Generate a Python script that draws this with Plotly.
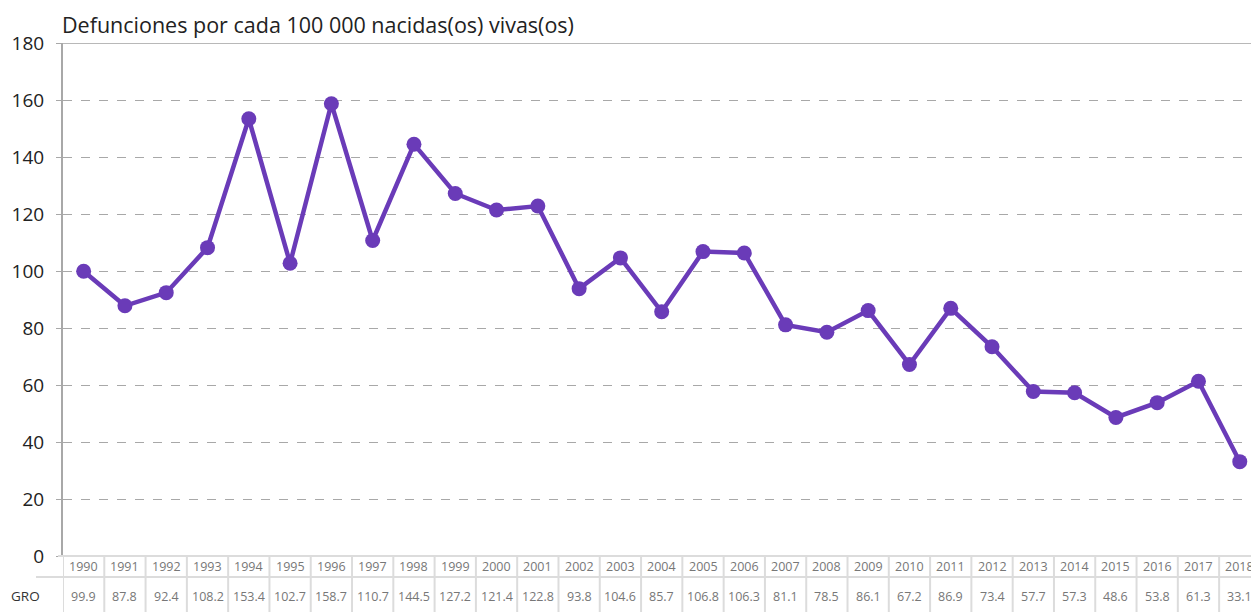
import plotly.graph_objects as go

years = list(range(1990, 2019))
gro = [99.9, 87.8, 92.4, 108.2, 153.4, 102.7, 158.7, 110.7, 144.5, 127.2,
       121.4, 122.8, 93.8, 104.6, 85.7, 106.8, 106.3, 81.1, 78.5, 86.1,
       67.2, 86.9, 73.4, 57.7, 57.3, 48.6, 53.8, 61.3, 33.1]
y_ticks = list(range(0, 181, 20))

W, H = 1251, 612
L, T, B = 63, 43, 56
plot_h = H - T - B
plot_w = W - L
col_w = 41.29

FONT = "Open Sans"
PURPLE = "#6a3bb8"

x_idx = list(range(len(years)))
x_max = -0.5 + plot_w / col_w


def py(pix):
    # pixel row -> paper y
    return (H - B - pix) / plot_h


def px(pix):
    # pixel column -> paper x
    return (pix - L) / plot_w


fig = go.Figure()
fig.add_trace(go.Scatter(
    x=x_idx, y=gro, mode="lines+markers",
    line=dict(color=PURPLE, width=4.5),
    marker=dict(color=PURPLE, size=15),
    cliponaxis=False, hoverinfo="skip", showlegend=False,
))

shapes = []
annotations = []

# top border at 180
shapes.append(dict(type="line", xref="paper", yref="y", x0=0, x1=1, y0=180, y1=180,
                   line=dict(color="#a0a0a0", width=1.5)))
# table horizontal rules
shapes.append(dict(type="line", xref="paper", yref="paper", x0=px(58), x1=1,
                   y0=0, y1=0, line=dict(color="#dcdcdc", width=2)))
shapes.append(dict(type="line", xref="paper", yref="paper", x0=px(36), x1=1,
                   y0=py(577), y1=py(577), line=dict(color="#dcdcdc", width=2)))
# table column separators
for i in range(len(years) + 1):
    shapes.append(dict(type="line", xref="x", yref="paper", x0=i - 0.5, x1=i - 0.5,
                       y0=0, y1=py(612), line=dict(color="#dcdcdc", width=2)))

for i, (yr, v) in enumerate(zip(years, gro)):
    annotations.append(dict(x=i, y=py(566.5), xref="x", yref="paper", text=str(yr),
                            xanchor="center", yanchor="middle", showarrow=False,
                            font=dict(family=FONT, size=12.5, color="#777777")))
    annotations.append(dict(x=i, y=py(596), xref="x", yref="paper", text=f"{v:.1f}",
                            xanchor="center", yanchor="middle", showarrow=False,
                            font=dict(family=FONT, size=12.5, color="#777777")))

annotations.append(dict(x=px(25), y=py(596), xref="paper", yref="paper", text="GRO",
                        xanchor="center", yanchor="middle", showarrow=False,
                        font=dict(family=FONT, size=13.5, color="#333333")))
annotations.append(dict(x=px(60), y=py(24), xref="paper", yref="paper",
                        text="Defunciones por cada 100 000 nacidas(os) vivas(os)",
                        xanchor="left", yanchor="middle", showarrow=False,
                        font=dict(family=FONT, size=21.5, color="#222222")))

fig.update_layout(
    width=W, height=H,
    margin=dict(l=L, r=0, t=T, b=B),
    paper_bgcolor="white", plot_bgcolor="white",
    shapes=shapes, annotations=annotations,
    xaxis=dict(range=[-0.5, x_max], showgrid=False, showticklabels=False,
               zeroline=False, showline=False, fixedrange=True),
    yaxis=dict(range=[0, 180], tickvals=y_ticks, showgrid=True,
               gridcolor="#a8a8a8", griddash="dash", gridwidth=1,
               zeroline=False, showline=True, linecolor="#a8a8a8", linewidth=2,
               ticks="outside", ticklen=5, tickcolor="#a8a8a8",
               ticklabelstandoff=8,
               tickfont=dict(family=FONT, size=19, color="#222222"),
               fixedrange=True),
)

fig.write_html("out.html")
